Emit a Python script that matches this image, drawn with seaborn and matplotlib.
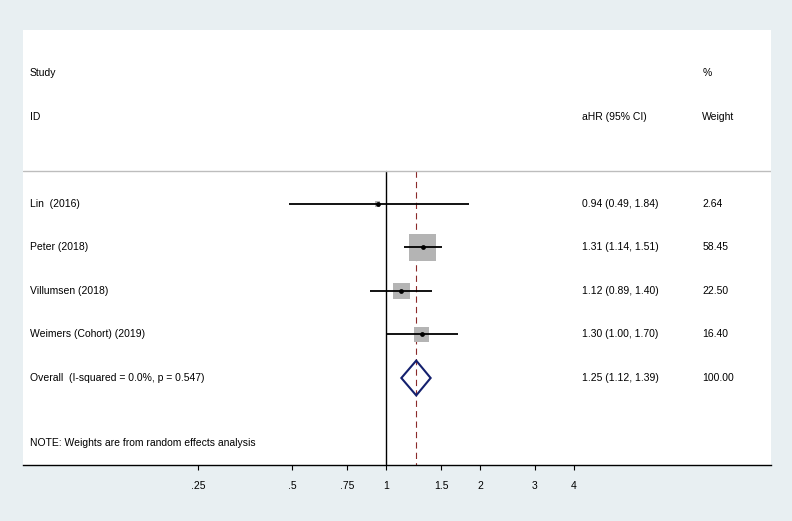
import numpy as np
import pandas as pd
import matplotlib.pyplot as plt
import matplotlib.ticker as mticker
import seaborn as sns

# study level data
studies = ["Lin  (2016)", "Peter (2018)", "Villumsen (2018)", "Weimers (Cohort) (2019)"]
hr = [0.94, 1.31, 1.12, 1.30]
lo = [0.49, 1.14, 0.89, 1.00]
hi = [1.84, 1.51, 1.40, 1.70]
weights = [2.64, 58.45, 22.50, 16.40]

# pooled estimate
overall_label = "Overall  (I-squared = 0.0%, p = 0.547)"
overall_hr = 1.25
overall_lo = 1.12
overall_hi = 1.39
overall_weight = 100.00

note = "NOTE: Weights are from random effects analysis"

tick_values = [0.25, 0.5, 0.75, 1, 1.5, 2, 3, 4]
tick_labels = [".25", ".5", ".75", "1", "1.5", "2", "3", "4"]

sns.set_style("white")
plt.rcParams['font.family'] = ['Liberation Sans', 'DejaVu Sans']
plt.rcParams['font.size'] = 7.5
plt.rcParams['text.color'] = 'black'
plt.rcParams['xtick.color'] = 'black'
plt.rcParams['xtick.labelcolor'] = 'black'
plt.rcParams['lines.scale_dashes'] = False

data = pd.DataFrame({"study": studies, "hr": hr, "lo": lo, "hi": hi,
                     "weight": weights, "row": range(len(studies))})
overall_row = len(studies)

fig = plt.figure(figsize=(7.92, 5.21), dpi=100, facecolor='#e8eff2')
ax = fig.add_axes([23/792, 56/521, 748/792, 435/521])
ax.set_facecolor('white')
ax.set_xscale('log')
ax.set_xlim(0.0688, 17.1)
ax.set_ylim(6, -4)

# weight boxes (area proportional to weight)
sns.scatterplot(data=data, x='hr', y='row', size='weight', sizes=(0, 635), size_norm=(0, 100),
                marker='s', color='#b4b4b4', linewidth=0, legend=False, ax=ax, zorder=2)

# confidence intervals
ax.hlines(data['row'], data['lo'], data['hi'], color='black', lw=1.3, zorder=3)
sns.scatterplot(data=data, x='hr', y='row', color='black', s=12, linewidth=0,
                legend=False, ax=ax, zorder=4)

# reference lines
ax.plot([1, 1], [-0.75, 6], color='black', lw=1, zorder=1)
ax.plot([overall_hr, overall_hr], [-0.75, 6], color='#8b2a2a', lw=0.8,
        ls=(0, (4.5, 3)), zorder=1)
ax.axhline(-0.75, color='#bdbdbd', lw=1)

# overall diamond
ax.fill([overall_lo, overall_hr, overall_hi, overall_hr],
        [overall_row, overall_row - 0.4, overall_row, overall_row + 0.4],
        fill=False, edgecolor='#14206e', lw=1.5, zorder=5)

# text columns
trans = ax.get_yaxis_transform()
x_lab, x_ci, x_w = 0.0094, 0.747, 0.908
ax.text(x_lab, -3, "Study", transform=trans, va='center')
ax.text(x_lab, -2, "ID", transform=trans, va='center')
ax.text(x_ci, -2, "aHR (95% CI)", transform=trans, va='center')
ax.text(x_w, -3, "%", transform=trans, va='center')
ax.text(x_w, -2, "Weight", transform=trans, va='center')

for i, row in data.iterrows():
    ax.text(x_lab, row['row'], row['study'], transform=trans, va='center')
    ax.text(x_ci, row['row'], f"{row['hr']:.2f} ({row['lo']:.2f}, {row['hi']:.2f})",
            transform=trans, va='center')
    ax.text(x_w, row['row'], f"{row['weight']:.2f}", transform=trans, va='center')

ax.text(x_lab, overall_row, overall_label, transform=trans, va='center')
ax.text(x_ci, overall_row, f"{overall_hr:.2f} ({overall_lo:.2f}, {overall_hi:.2f})",
        transform=trans, va='center')
ax.text(x_w, overall_row, f"{overall_weight:.2f}", transform=trans, va='center')
ax.text(x_lab, 5.5, note, transform=trans, va='center')

# axis
for s in ['top', 'left', 'right']:
    ax.spines[s].set_visible(False)
ax.spines['bottom'].set_color('black')
ax.spines['bottom'].set_linewidth(1)
ax.set_xticks(tick_values)
ax.set_xticklabels(tick_labels)
ax.xaxis.set_minor_locator(mticker.NullLocator())
ax.tick_params(axis='x', bottom=True, direction='out', length=3.6, width=0.8,
               pad=8, labelsize=7.5, color='black', labelcolor='black')
ax.set_yticks([])
ax.set_xlabel('')
ax.set_ylabel('')

plt.savefig("out.png", dpi=100, facecolor=fig.get_facecolor())
